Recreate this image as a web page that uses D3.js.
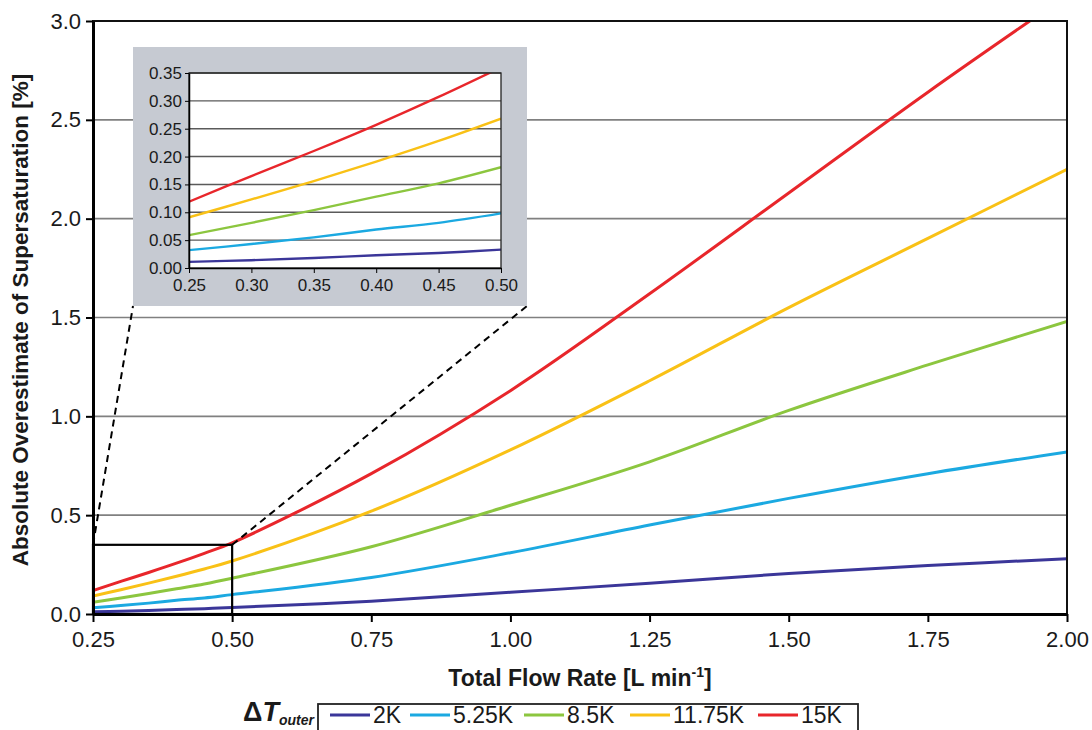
<!DOCTYPE html>
<html>
<head>
<meta charset="utf-8">
<script src="https://cdn.jsdelivr.net/npm/d3@7"></script>
<style>
  body { margin: 0; background: #fff; }
  svg { display: block; font-family: "Liberation Sans", Arial, sans-serif; }
</style>
</head>
<body>
<svg id="chart" width="1092" height="730"></svg>
<script>
// data
var flowRates = [0.25, 0.30, 0.35, 0.40, 0.45, 0.50, 0.75, 1.00, 1.25, 1.50, 1.75, 2.00];
var dT2 = [0.011, 0.014, 0.018, 0.023, 0.027, 0.033, 0.065, 0.11, 0.155, 0.205, 0.245, 0.28];
var dT525 = [0.032, 0.043, 0.055, 0.069, 0.081, 0.098, 0.185, 0.31, 0.45, 0.585, 0.71, 0.82];
var dT85 = [0.059, 0.081, 0.104, 0.128, 0.152, 0.181, 0.34, 0.55, 0.77, 1.03, 1.26, 1.48];
var dT1175 = [0.091, 0.123, 0.156, 0.191, 0.228, 0.268, 0.52, 0.83, 1.18, 1.55, 1.90, 2.25];
var dT15 = [0.119, 0.165, 0.21, 0.257, 0.307, 0.36, 0.71, 1.13, 1.62, 2.13, 2.64, 3.13];
var seriesNames = ["2K", "5.25K", "8.5K", "11.75K", "15K"];
var seriesColors = ["#3b3699", "#1ba9e1", "#8cc63f", "#f9c116", "#e8262b"];
var mainXTicks = [0.25, 0.50, 0.75, 1.00, 1.25, 1.50, 1.75, 2.00];
var mainYTicks = [0, 0.5, 1.0, 1.5, 2.0, 2.5, 3.0];
var insetXTicks = [0.25, 0.30, 0.35, 0.40, 0.45, 0.50];
var insetYTicks = [0, 0.05, 0.10, 0.15, 0.20, 0.25, 0.30, 0.35];

var allSeries = [dT2, dT525, dT85, dT1175, dT15].map(function(vals, i) {
    return {
        name: seriesNames[i],
        color: seriesColors[i],
        values: vals.map(function(v, j) { return { x: flowRates[j], y: v }; })
    };
});

var svg = d3.select("svg#chart");

// ---- main plot ----
var x = d3.scaleLinear().domain([0.25, 2.0]).range([93, 1067]);
var y = d3.scaleLinear().domain([0, 3.0]).range([614, 21]);

svg.append("defs").append("clipPath").attr("id", "mainClip")
    .append("rect")
    .attr("x", x(0.25)).attr("y", y(3.0))
    .attr("width", x(2.0) - x(0.25)).attr("height", y(0) - y(3.0));

svg.append("g")
    .selectAll("line.grid")
    .data(mainYTicks.filter(function(d) { return d > 0 && d < 3; }))
    .enter()
    .append("line")
    .attr("x1", x(0.25)).attr("x2", x(2.0))
    .attr("y1", d => y(d)).attr("y2", d => y(d))
    .attr("stroke", "#808080")
    .attr("stroke-width", 1.6);

var line = d3.line()
    .x(d => x(d.x))
    .y(d => y(d.y))
    .curve(d3.curveCatmullRom.alpha(0.5));

svg.append("g")
    .attr("clip-path", "url(#mainClip)")
    .selectAll("path")
    .data(allSeries)
    .enter()
    .append("path")
    .attr("fill", "none")
    .attr("stroke", d => d.color)
    .attr("stroke-width", 3)
    .attr("d", d => line(d.values));

// frame
svg.append("rect")
    .attr("x", x(0.25)).attr("y", y(3.0))
    .attr("width", x(2.0) - x(0.25)).attr("height", y(0) - y(3.0))
    .attr("fill", "none")
    .attr("stroke", "#111")
    .attr("stroke-width", 2);

var yAxis = d3.axisLeft(y).tickValues(mainYTicks).tickFormat(d3.format(".1f"))
    .tickSizeInner(7).tickSizeOuter(0).tickPadding(5);
var gy = svg.append("g").attr("transform", "translate(" + x(0.25) + ",0)").call(yAxis);
gy.select(".domain").attr("stroke", "#000").attr("stroke-width", 3);
gy.selectAll(".tick line").attr("stroke", "#000").attr("stroke-width", 2);
gy.selectAll(".tick text").attr("font-size", "22px").attr("fill", "#1a1a1a")
    .attr("font-family", "Liberation Sans, Arial, sans-serif");

var xAxis = d3.axisBottom(x).tickValues(mainXTicks).tickFormat(d3.format(".2f"))
    .tickSizeInner(8).tickSizeOuter(0).tickPadding(9);
var gx = svg.append("g").attr("transform", "translate(0," + y(0) + ")").call(xAxis);
gx.select(".domain").attr("stroke", "#000").attr("stroke-width", 3);
gx.selectAll(".tick line").attr("stroke", "#000").attr("stroke-width", 2);
gx.selectAll(".tick text").attr("font-size", "22px").attr("fill", "#1a1a1a")
    .attr("font-family", "Liberation Sans, Arial, sans-serif");

// axis titles
svg.append("text")
    .attr("transform", "translate(28," + 320 + ") rotate(-90)")
    .style("text-anchor", "middle")
    .attr("font-size", "22.5px")
    .attr("font-weight", "bold")
    .attr("fill", "#1a1a1a")
    .text("Absolute Overestimate of Supersaturation [%]");

var xt = svg.append("text")
    .attr("x", 580).attr("y", 686)
    .style("text-anchor", "middle")
    .attr("font-size", "23px")
    .attr("font-weight", "bold")
    .attr("fill", "#1a1a1a");
xt.append("tspan").text("Total Flow Rate [L min");
xt.append("tspan").attr("dy", -9).attr("font-size", "14px").text("-1");
xt.append("tspan").attr("dy", 9).text("]");

// zoom box and leader lines
svg.append("rect")
    .attr("x", x(0.25)).attr("y", y(0.35))
    .attr("width", x(0.5) - x(0.25)).attr("height", y(0) - y(0.35))
    .attr("fill", "none")
    .attr("stroke", "#000")
    .attr("stroke-width", 2.2);

var panel = { x0: 133, y0: 47, x1: 527, y1: 306 };

svg.append("line")
    .attr("x1", x(0.25)).attr("y1", y(0.35))
    .attr("x2", panel.x0).attr("y2", panel.y1)
    .attr("stroke", "#000").attr("stroke-width", 2).attr("stroke-dasharray", "7,5");
svg.append("line")
    .attr("x1", x(0.5)).attr("y1", y(0.35))
    .attr("x2", panel.x1).attr("y2", panel.y1)
    .attr("stroke", "#000").attr("stroke-width", 2).attr("stroke-dasharray", "7,5");

// ---- inset ----
var inset = svg.append("g");
inset.append("rect")
    .attr("x", panel.x0).attr("y", panel.y0)
    .attr("width", panel.x1 - panel.x0).attr("height", panel.y1 - panel.y0)
    .attr("fill", "#c6cad2");

var ix = d3.scaleLinear().domain([0.25, 0.5]).range([189, 501]);
var iy = d3.scaleLinear().domain([0, 0.35]).range([268, 73]);

inset.append("rect")
    .attr("x", ix(0.25)).attr("y", iy(0.35))
    .attr("width", ix(0.5) - ix(0.25)).attr("height", iy(0) - iy(0.35))
    .attr("fill", "#fff");

inset.append("g")
    .selectAll("line")
    .data(insetYTicks.filter(d => d > 0))
    .enter()
    .append("line")
    .attr("x1", ix(0.25)).attr("x2", ix(0.5))
    .attr("y1", d => iy(d)).attr("y2", d => iy(d))
    .attr("stroke", "#5a5a5a")
    .attr("stroke-width", 1.4);

inset.append("defs").append("clipPath").attr("id", "insetClip")
    .append("rect")
    .attr("x", ix(0.25)).attr("y", iy(0.35))
    .attr("width", ix(0.5) - ix(0.25)).attr("height", iy(0) - iy(0.35));

var iline = d3.line()
    .x(d => ix(d.x))
    .y(d => iy(d.y))
    .curve(d3.curveCatmullRom.alpha(0.5));

inset.append("g")
    .attr("clip-path", "url(#insetClip)")
    .selectAll("path")
    .data(allSeries)
    .enter()
    .append("path")
    .attr("fill", "none")
    .attr("stroke", d => d.color)
    .attr("stroke-width", 2.4)
    .attr("d", d => iline(d.values.filter(p => p.x <= 0.5)));

inset.append("rect")
    .attr("x", ix(0.25)).attr("y", iy(0.35))
    .attr("width", ix(0.5) - ix(0.25)).attr("height", iy(0) - iy(0.35))
    .attr("fill", "none")
    .attr("stroke", "#222")
    .attr("stroke-width", 1.3);

var iyAxis = d3.axisLeft(iy).tickValues(insetYTicks).tickFormat(d3.format(".2f"))
    .tickSizeInner(4).tickSizeOuter(0).tickPadding(3);
var igy = inset.append("g").attr("transform", "translate(" + ix(0.25) + ",0)").call(iyAxis);
igy.select(".domain").attr("stroke", "#000").attr("stroke-width", 1.5);
igy.selectAll(".tick line").attr("stroke", "#000");
igy.selectAll(".tick text").attr("font-size", "17px").attr("fill", "#1a1a1a")
    .attr("font-family", "Liberation Sans, Arial, sans-serif");

var ixAxis = d3.axisBottom(ix).tickValues(insetXTicks).tickFormat(d3.format(".2f"))
    .tickSizeInner(5).tickSizeOuter(0).tickPadding(6);
var igx = inset.append("g").attr("transform", "translate(0," + iy(0) + ")").call(ixAxis);
igx.select(".domain").attr("stroke", "#000").attr("stroke-width", 1.5);
igx.selectAll(".tick line").attr("stroke", "#000");
igx.selectAll(".tick text").attr("font-size", "17px").attr("fill", "#1a1a1a")
    .attr("font-family", "Liberation Sans, Arial, sans-serif");

// ---- legend ----
var lg = svg.append("g");
var lt = lg.append("text")
    .attr("x", 243).attr("y", 721)
    .attr("font-size", "27px")
    .attr("font-weight", "bold")
    .attr("fill", "#1a1a1a");
lt.append("tspan").text("\u0394");
lt.append("tspan").attr("font-style", "italic").text("T");
lt.append("tspan").attr("font-style", "italic").attr("font-size", "14px")
    .attr("dy", 4).text("outer");

lg.append("rect")
    .attr("x", 318).attr("y", 704)
    .attr("width", 540).attr("height", 34)
    .attr("fill", "#fff")
    .attr("stroke", "#222")
    .attr("stroke-width", 1.8);

var legendX = [330, 410, 524, 630, 758];
var items = lg.selectAll("g.legend")
    .data(allSeries)
    .enter()
    .append("g")
    .attr("class", "legend")
    .attr("transform", (d, i) => "translate(" + legendX[i] + ",715)");

items.append("line")
    .attr("x1", 0).attr("x2", 40)
    .attr("stroke", d => d.color)
    .attr("stroke-width", 3);

items.append("text")
    .attr("x", 43).attr("y", 8)
    .attr("font-size", "23px")
    .attr("fill", "#1a1a1a")
    .text(d => d.name);
</script>
</body>
</html>
